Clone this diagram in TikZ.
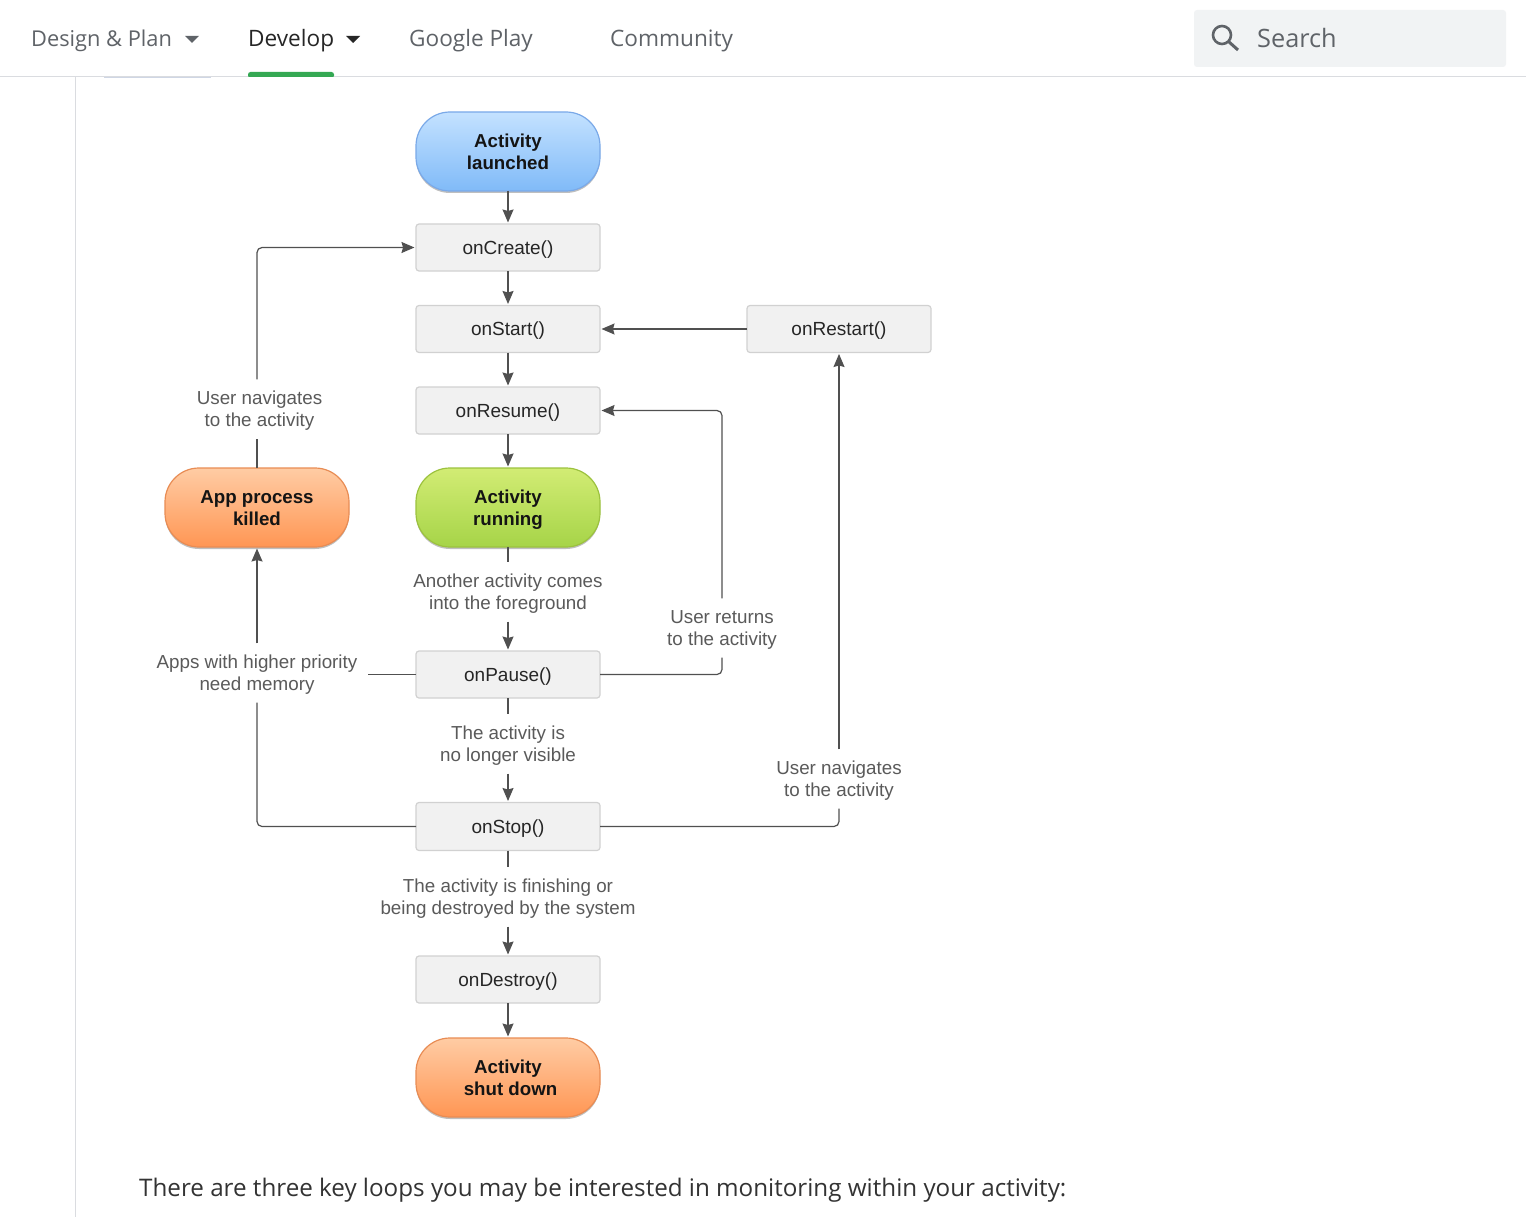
\documentclass[tikz,border=0pt]{standalone}
\usepackage{fontspec}
\setmainfont{Liberation Sans}
\newfontfamily\navfont{Open Sans}
\usetikzlibrary{arrows.meta,shadows,calc}
\definecolor{linec}{HTML}{505050}
\definecolor{labelc}{HTML}{5A5A5A}
\definecolor{navc}{HTML}{5F6368}
\definecolor{rulec}{HTML}{DADCE0}
\definecolor{stripc}{HTML}{CFD6E4}
\definecolor{barc}{HTML}{34A853}
\definecolor{searchc}{HTML}{F1F3F4}
\newcommand{\dn}{\rule{0pt}{17.5pt}}
\tikzset{
  basebox/.style={minimum width=184pt,inner sep=0pt,outer sep=0pt,align=center,font=\fontsize{19pt}{22pt}\selectfont,text=black!85},
  method/.style={basebox,minimum height=47pt,rounded corners=3pt,draw=black!18,line width=1.2pt,fill=black!5.5},
  pill/.style={basebox,minimum height=79pt,rounded corners=34pt,line width=1.2pt,font=\fontsize{18.7pt}{22pt}\selectfont\bfseries,text=black!92,drop shadow={shadow xshift=0pt,shadow yshift=-2pt,opacity=.25,fill=black}},
  bluepill/.style={pill,draw={rgb,255:red,122;green,169;blue,232},top color={rgb,255:red,196;green,226;blue,255},bottom color={rgb,255:red,128;green,186;blue,248}},
  greenpill/.style={pill,draw={rgb,255:red,156;green,194;blue,62},top color={rgb,255:red,210;green,236;blue,116},bottom color={rgb,255:red,166;green,212;blue,72}},
  orangepill/.style={pill,draw={rgb,255:red,232;green,140;blue,84},top color={rgb,255:red,255;green,204;blue,164},bottom color={rgb,255:red,255;green,150;blue,84}},
  lbl/.style={inner xsep=11pt,inner ysep=8pt,outer sep=0pt,align=center,text=labelc,font=\fontsize{18.8pt}{22pt}\selectfont},
  nav/.style={anchor=base west,inner sep=0pt,text=navc,font=\navfont\fontsize{22.6pt}{26pt}\selectfont},
  conn/.style={draw=linec,line width=1.2pt,rounded corners=5pt},
  arr/.style={conn,-{Stealth[length=13pt,width=11pt,inset=1.5pt]},shorten >=1.5pt}
}
\begin{document}
\begin{tikzpicture}[x=1pt,y=-1pt]
\useasboundingbox (0,0) rectangle (1526,1217);
% page chrome
\fill[white] (0,0) rectangle (1526,1217);
\fill[stripc] (104,76) rectangle (211,78);
\draw[rulec,line width=1pt] (0,76.5) -- (1526,76.5);
\draw[rulec,line width=1pt] (75.5,77) -- (75.5,1217);
\node[nav,font=\navfont\fontsize{21.8pt}{26pt}\selectfont] (navdesign) at (31,47) {Design \& Plan};
\node[nav,text=black!85] (navdevelop) at (248,47) {Develop};
\node[nav] (navplay) at (409,47) {Google Play};
\node[nav] (navcomm) at (610,47) {Community};
\fill[navc] (185,36) -- (199,36) -- (192,43) -- cycle;
\fill[black!85] (346,36) -- (360,36) -- (353,43) -- cycle;
\fill[barc,rounded corners=2.5pt] (248,78) -- (248,72) -- (334,72) -- (334,78) -- cycle;
\fill[white] (240,77) rectangle (342,79);
\node[fill=searchc,rounded corners=3pt,minimum width=312pt,minimum height=57pt,inner sep=0pt] (searchbox) at (1350,38.5) {};
\node[nav,font=\navfont\fontsize{25.3pt}{30pt}\selectfont] (searchtext) at (1257,48) {Search};
\draw[navc,line width=2.6pt] (1222,35) circle[radius=9];
\draw[navc,line width=3pt] (1228.5,41.5) -- (1238,50);
% diagram
\node[bluepill] (launched) at (508,151.5) {Activity\\launched};
\node[method] (create) at (508,247.5) {\dn onCreate()};
\node[method] (start) at (508,329) {\dn onStart()};
\node[method] (resume) at (508,410.5) {\dn onResume()};
\node[greenpill] (running) at (508,507.5) {\dn Activity\\running};
\node[orangepill] (killed) at (257,507.5) {\rule{0pt}{14.5pt}App process\\killed};
\node[method] (pause) at (508,674.5) {\dn onPause()};
\node[method,minimum height=48pt] (stop) at (508,826.5) {\dn onStop()};
\node[method] (destroy) at (508,979.5) {\dn onDestroy()};
\node[orangepill] (shutdown) at (508,1077.5) {Activity\\\hspace*{5pt}shut down};
\node[method] (restart) at (839,329) {\dn onRestart()};
\node[lbl] (lnavl) at (259.5,409) {\dn User navigates\\to the activity};
\node[lbl] (lfore) at (508,592) {\dn Another activity comes\\into the foreground};
\node[lbl] (lret) at (722,628) {\dn User returns\\to the activity};
\node[lbl] (lapps) at (257,673) {\dn Apps with higher priority\\need memory};
\node[lbl] (lvis) at (508,744) {\dn The activity is\\no longer visible};
\node[lbl] (lnavr) at (839,779) {\dn User navigates\\to the activity};
\node[lbl] (lfin) at (508,897) {\dn The activity is finishing or\\being destroyed by the system};
\draw[arr] (launched) -- (create);
\draw[arr] (create) -- (start);
\draw[arr] (start) -- (resume);
\draw[arr] (resume) -- (running);
\draw[conn] (running) -- (lfore);
\draw[arr] (lfore) -- (pause);
\draw[conn] (pause) -- (lvis);
\draw[arr] (lvis) -- (stop);
\draw[conn] (stop) -- (lfin);
\draw[arr] (lfin) -- (destroy);
\draw[arr] (destroy) -- (shutdown);
\draw[arr] (restart) -- (start);
\draw[conn] (killed.north) -- (killed.north |- lnavl.south);
\draw[arr] (killed.north |- lnavl.north) |- (create.west);
\draw[conn] (pause.west) -- (pause.west -| lapps.east);
\draw[conn] (stop.west) -| (lapps.south);
\draw[arr] (lapps.north) -- (killed.south);
\draw[conn] (pause.east) -| (lret.south);
\draw[arr] (lret.north) |- (resume.east);
\draw[conn] (stop.east) -| (lnavr.south);
\draw[arr] (lnavr.north) -- (restart.south);
% body text
\node[nav,text=black!80,font=\navfont\fontsize{24.2pt}{30pt}\selectfont] (bodytext) at (139,1196) {There are three key loops you may be interested in monitoring within your activity:};
\end{tikzpicture}
\end{document}
